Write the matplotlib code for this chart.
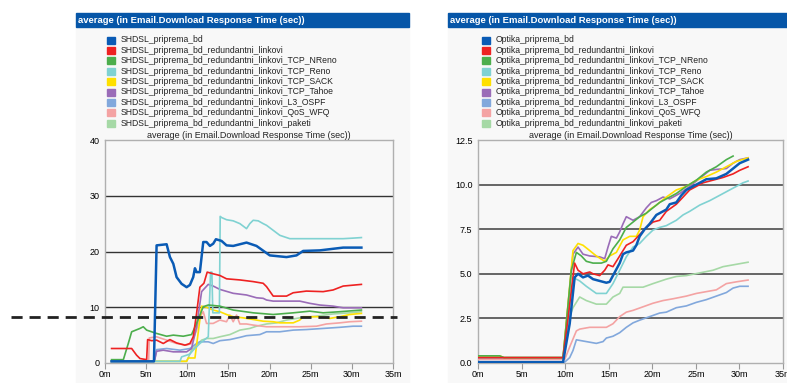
import matplotlib
matplotlib.use("Agg")
import matplotlib.pyplot as plt
from matplotlib.patches import Rectangle

W, H = 787, 383

# time in minutes, value in seconds
shdsl_bd = [(0.8, 0.3), (5.95, 0.3), (6.27, 21.1), (7.49, 21.3), (7.89, 19.0), (8.3, 17.8), (8.7, 15.4),
            (9.31, 14.2), (9.92, 13.6), (10.32, 14.0), (10.72, 15.4), (10.93, 17.0), (11.13, 16.3),
            (11.53, 16.3), (11.94, 21.7), (12.34, 21.7), (12.75, 21.0), (13.15, 21.4), (13.48, 22.2),
            (14.16, 21.9), (14.77, 21.1), (15.58, 21.0), (17.2, 21.6), (18.41, 21.0), (20.03, 19.3),
            (22.06, 19.0), (23.27, 19.3), (24.08, 20.1), (26.1, 20.2), (28.94, 20.7), (31.16, 20.7)]
shdsl_red = [(0.8, 2.6), (3.24, 2.6), (3.84, 1.4), (4.25, 0.8), (5.06, 0.6), (5.18, 4.2), (5.67, 4.0),
             (6.27, 4.1), (7.08, 3.5), (7.89, 4.2), (8.7, 3.6), (9.71, 3.2), (10.32, 3.5), (10.72, 4.7),
             (11.13, 8.9), (11.53, 13.6), (12.02, 14.3), (12.42, 16.3), (13.15, 16.0), (13.96, 15.7),
             (14.77, 15.1), (16.39, 14.9), (18.01, 14.6), (19.22, 14.3), (19.63, 13.7), (20.44, 12.0),
             (22.06, 12.0), (22.87, 12.6), (24.48, 12.9), (26.51, 12.8), (27.72, 13.1), (28.94, 13.8),
             (31.16, 14.1)]
shdsl_nreno = [(0.8, 0.6), (2.23, 0.6), (2.83, 3.5), (3.24, 5.6), (4.25, 6.2), (4.65, 6.5), (5.06, 5.9),
               (6.27, 5.3), (7.49, 4.8), (8.3, 5.0), (9.51, 4.8), (10.52, 5.1), (11.13, 7.1), (11.94, 10.1),
               (12.55, 10.4), (13.96, 10.2), (15.58, 9.5), (18.01, 9.0), (20.44, 8.7), (22.87, 9.0),
               (24.89, 9.3), (26.51, 9.0), (28.53, 9.2), (31.16, 9.5)]
shdsl_reno = [(0.8, 0.3), (9.11, 0.3), (9.31, 1.1), (10.32, 1.6), (10.72, 2.3), (11.53, 3.5), (12.55, 4.7),
              (12.83, 16.3), (12.99, 16.3), (13.1, 9.0), (13.9, 9.0), (14.0, 26.3), (14.16, 26.1),
              (14.77, 25.7), (15.58, 25.5), (16.39, 25.0), (17.2, 24.1), (17.6, 25.0), (18.01, 25.6),
              (18.62, 25.5), (19.22, 25.0), (19.63, 24.7), (20.44, 23.8), (21.25, 22.9), (22.46, 22.3),
              (24.89, 22.3), (28.94, 22.3), (30.15, 22.4), (31.16, 22.5)]
shdsl_sack = [(0.8, 0.3), (9.92, 0.3), (10.12, 0.9), (10.93, 0.9), (11.74, 10.2), (12.34, 10.0), (13.15, 9.5),
              (13.96, 9.2), (14.77, 8.7), (15.58, 8.3), (16.8, 8.1), (18.01, 7.8), (19.22, 7.5), (20.44, 7.4),
              (21.25, 7.2), (22.87, 7.2), (23.67, 7.7), (24.08, 8.3), (26.1, 8.3), (27.32, 8.0), (28.53, 8.3),
              (29.74, 8.7), (31.16, 8.9)]
shdsl_tahoe = [(0.8, 0.3), (6.0, 0.3), (6.27, 2.1), (7.08, 2.3), (8.3, 2.0), (9.92, 2.0), (10.52, 2.6),
               (11.13, 6.5), (11.74, 12.8), (12.55, 14.1), (13.15, 13.8), (13.96, 13.2), (15.58, 12.5),
               (17.2, 12.2), (18.41, 11.7), (19.22, 11.6), (19.63, 11.3), (20.44, 11.1), (23.67, 11.1),
               (24.89, 10.7), (26.1, 10.4), (27.72, 10.2), (28.94, 9.9), (31.16, 9.9)]
shdsl_ospf = [(0.8, 0.3), (6.0, 0.3), (6.27, 2.4), (7.49, 2.6), (9.11, 2.3), (10.32, 2.6), (11.13, 3.5),
              (11.53, 3.8), (12.55, 3.8), (13.15, 3.5), (13.96, 4.0), (15.18, 4.2), (16.39, 4.6), (17.2, 4.9),
              (18.82, 5.1), (19.63, 5.6), (21.25, 5.6), (22.87, 5.9), (24.48, 6.0), (26.51, 6.2), (28.53, 6.4),
              (30.15, 6.6), (31.16, 6.6)]
shdsl_wfq = [(0.8, 0.3), (5.3, 0.3), (5.38, 4.5), (6.27, 4.7), (7.49, 4.1), (8.7, 3.5), (9.92, 3.2),
             (10.52, 3.5), (11.13, 5.9), (11.53, 8.3), (11.94, 9.2), (12.34, 7.1), (13.15, 7.1), (13.96, 7.7),
             (14.77, 7.4), (15.18, 8.6), (15.58, 7.4), (15.99, 8.6), (16.39, 7.0), (17.2, 7.0), (18.01, 6.8),
             (19.63, 6.5), (21.25, 6.5), (23.67, 6.5), (25.7, 6.6), (26.91, 7.0), (28.53, 7.2), (29.74, 7.4),
             (31.16, 7.5)]
shdsl_paketi = [(0.8, 0.3), (9.92, 0.3), (10.52, 2.3), (11.13, 3.2), (11.74, 4.1), (12.34, 4.4), (13.15, 4.4),
                (13.96, 4.7), (15.18, 5.1), (16.39, 5.9), (17.6, 6.2), (18.41, 6.6), (19.63, 7.0), (20.84, 7.2),
                (22.06, 7.7), (23.67, 8.1), (25.7, 8.4), (27.72, 8.8), (29.74, 9.0), (31.16, 9.2)]

opt_bd = [(0.0, 0.05), (9.76, 0.05), (10.52, 2.2), (11.09, 4.8), (11.48, 5.0), (12.05, 4.8), (12.62, 4.9),
          (13.2, 4.7), (13.96, 4.6), (14.73, 4.5), (15.11, 4.55), (15.49, 4.9), (16.26, 5.6), (16.64, 6.1),
          (17.02, 6.2), (17.79, 6.3), (18.17, 6.6), (18.55, 7.1), (19.13, 7.5), (19.7, 7.8), (20.47, 8.3),
          (21.23, 8.5), (21.61, 8.6), (22.0, 8.9), (22.76, 9.0), (23.34, 9.4), (23.91, 9.7), (24.67, 9.9),
          (25.44, 10.1), (26.2, 10.3), (27.35, 10.35), (28.5, 10.6), (29.27, 10.9), (30.03, 11.2), (30.99, 11.4)]
opt_red = [(0.0, 0.3), (9.76, 0.3), (10.33, 2.5), (11.09, 5.6), (11.48, 5.2), (12.05, 5.0), (12.82, 5.1),
           (13.2, 5.0), (13.96, 4.9), (14.54, 5.2), (14.92, 5.5), (15.49, 5.4), (16.26, 6.0), (17.02, 6.6),
           (17.79, 6.8), (18.55, 7.2), (19.32, 7.6), (20.08, 7.9), (20.85, 8.0), (21.61, 8.5), (22.76, 8.9),
           (23.53, 9.3), (24.29, 9.7), (25.06, 9.9), (25.82, 10.1), (26.97, 10.25), (28.12, 10.4), (29.27, 10.6),
           (30.03, 10.8), (30.99, 11.0)]
opt_nreno = [(0.0, 0.4), (2.49, 0.4), (3.0, 0.3), (9.76, 0.3), (10.71, 5.2), (11.29, 6.2), (11.86, 6.0),
             (12.43, 5.7), (13.2, 5.6), (14.15, 5.6), (14.73, 5.7), (15.49, 6.4), (16.26, 6.9), (17.02, 7.6),
             (17.79, 7.9), (18.55, 8.2), (19.32, 8.4), (20.08, 8.7), (20.85, 9.0), (21.61, 9.2), (22.76, 9.5),
             (23.91, 9.9), (25.06, 10.25), (26.2, 10.7), (27.35, 11.0), (28.5, 11.4), (29.27, 11.6)]
opt_reno = [(0.0, 0.3), (9.76, 0.3), (10.9, 4.8), (11.67, 4.6), (12.43, 4.3), (13.58, 3.9), (14.73, 3.9),
            (15.49, 4.45), (16.26, 5.2), (17.02, 5.95), (17.79, 6.5), (18.55, 6.7), (19.32, 7.1), (20.08, 7.45),
            (20.85, 7.6), (21.61, 7.7), (22.76, 8.0), (23.53, 8.3), (24.29, 8.5), (25.44, 8.85), (26.59, 9.1),
            (27.74, 9.4), (28.88, 9.7), (29.65, 9.9), (30.41, 10.1), (30.99, 10.2)]
opt_sack = [(0.0, 0.4), (2.49, 0.4), (3.0, 0.3), (9.76, 0.3), (10.9, 6.3), (11.48, 6.7), (12.05, 6.6),
            (12.82, 6.3), (13.58, 6.0), (14.54, 5.7), (15.11, 6.0), (15.88, 6.2), (16.64, 6.9), (17.41, 7.1),
            (18.17, 7.1), (18.55, 7.45), (18.94, 8.2), (19.7, 8.6), (20.47, 8.85), (21.61, 9.3), (22.76, 9.7),
            (23.91, 9.9), (25.06, 10.25), (26.2, 10.45), (27.35, 10.7), (28.5, 11.0), (29.65, 11.3), (30.99, 11.5)]
opt_tahoe = [(0.0, 0.3), (9.76, 0.3), (10.9, 6.1), (11.48, 6.5), (12.05, 6.1), (12.82, 6.0), (13.96, 5.95),
             (14.54, 5.85), (14.92, 6.5), (15.3, 7.1), (15.88, 7.0), (16.26, 7.35), (16.64, 7.8), (17.02, 8.2),
             (17.79, 8.0), (18.55, 8.2), (19.32, 8.7), (19.89, 9.0), (20.47, 9.1), (21.23, 9.3), (22.0, 9.2),
             (23.14, 9.5), (24.29, 9.9), (25.44, 10.35), (26.59, 10.8), (27.35, 10.85), (28.5, 10.9),
             (29.27, 11.2), (30.03, 11.4), (30.99, 11.5)]
opt_ospf = [(0.0, 0.05), (9.95, 0.05), (10.52, 0.3), (10.9, 0.7), (11.29, 1.3), (12.43, 1.2), (13.58, 1.1),
            (14.35, 1.2), (14.73, 1.4), (15.49, 1.5), (16.26, 1.7), (17.02, 2.0), (17.79, 2.25), (18.55, 2.4),
            (19.7, 2.6), (20.85, 2.8), (21.61, 2.85), (22.76, 3.1), (23.91, 3.2), (25.06, 3.4), (26.2, 3.55),
            (27.35, 3.75), (28.5, 3.95), (29.27, 4.2), (30.03, 4.3), (30.99, 4.3)]
opt_wfq = [(0.0, 0.2), (9.95, 0.2), (10.52, 0.9), (11.29, 1.8), (11.67, 1.9), (12.82, 2.0), (14.73, 2.0),
           (15.49, 2.2), (16.26, 2.6), (17.02, 2.85), (17.79, 2.95), (18.94, 3.15), (20.08, 3.35), (21.23, 3.5),
           (22.38, 3.6), (23.91, 3.75), (25.06, 3.9), (26.2, 4.0), (27.35, 4.1), (28.5, 4.45), (29.65, 4.55),
           (30.99, 4.65)]
opt_paketi = [(0.0, 0.3), (9.76, 0.3), (10.52, 2.6), (10.9, 3.1), (11.67, 3.7), (12.43, 3.5), (13.58, 3.3),
              (14.73, 3.3), (15.49, 3.7), (16.26, 3.9), (16.64, 4.25), (17.79, 4.25), (18.94, 4.25),
              (20.08, 4.45), (21.61, 4.7), (22.76, 4.85), (23.91, 4.9), (25.44, 5.05), (26.97, 5.2),
              (28.12, 5.4), (29.27, 5.5), (30.99, 5.65)]

suffixes = ["_priprema_bd", "_priprema_bd_redundantni_linkovi",
            "_priprema_bd_redundantni_linkovi_TCP_NReno", "_priprema_bd_redundantni_linkovi_TCP_Reno",
            "_priprema_bd_redundantni_linkovi_TCP_SACK", "_priprema_bd_redundantni_linkovi_TCP_Tahoe",
            "_priprema_bd_redundantni_linkovi_L3_OSPF", "_priprema_bd_redundantni_linkovi_QoS_WFQ",
            "_priprema_bd_redundantni_linkovi_paketi"]
colors = ["#0a5bb5", "#ee2222", "#4cae4c", "#80d2d2", "#ffe000", "#9a6cb8", "#82a8dc", "#f4a3a3", "#a6d9a6"]

left_series = [shdsl_bd, shdsl_red, shdsl_nreno, shdsl_reno, shdsl_sack, shdsl_tahoe, shdsl_ospf, shdsl_wfq,
               shdsl_paketi]
right_series = [opt_bd, opt_red, opt_nreno, opt_reno, opt_sack, opt_tahoe, opt_ospf, opt_wfq, opt_paketi]

left_yticks = [0, 10, 20, 30, 40]
right_yticks = [0.0, 2.5, 5.0, 7.5, 10.0, 12.5]
xticks = [0, 5, 10, 15, 20, 25, 30, 35]
threshold = 8.25

header = "average (in Email.Download Response Time (sec))"
FONT = "Liberation Sans"
plt.rcParams["font.family"] = FONT

fig = plt.figure(figsize=(W / 100, H / 100), dpi=100)


def fx(px):
    return px / W


def fy(py):
    return 1 - py / H


def panel(x0, x1, prefix, series, yticks, ylim, ax_left, ax_right, sq_x, grid_color, grid_lw):
    # background and blue title bar
    fig.patches.append(Rectangle((fx(x0), 0), fx(x1) - fx(x0), fy(27), transform=fig.transFigure,
                                 color="#f8f8f8", zorder=-2))
    fig.patches.append(Rectangle((fx(x0), fy(27)), fx(x1) - fx(x0), fy(13) - fy(27), transform=fig.transFigure,
                                 color="#0656a8", zorder=-1))
    fig.text(fx(x0 + 2), fy(20.5), header, color="white", fontsize=6.8, fontweight="bold", va="center")

    # legend
    for i, (suf, c) in enumerate(zip(suffixes, colors)):
        yc = 40 + i * 10.4
        fig.patches.append(Rectangle((fx(sq_x), fy(yc + 3.5)), fx(8), 7 / H, transform=fig.transFigure,
                                     color=c, zorder=-1))
        fig.text(fx(sq_x + 14), fy(yc), prefix + suf, fontsize=6.2, va="center", color="#222222")

    ax = fig.add_axes([fx(ax_left), fy(363), fx(ax_right) - fx(ax_left), fy(140) - fy(363)])
    ax.set_zorder(2)
    ax.set_facecolor("#f8f8f8")
    for i, (pts, c) in enumerate(zip(series, colors)):
        t = [p[0] for p in pts]
        v = [p[1] for p in pts]
        lw = 1.8 if i == 0 else 1.2
        ax.plot(t, v, color=c, lw=lw, zorder=10 - i if i else 11)
    for yv in yticks[1:-1]:
        ax.axhline(yv, color=grid_color, lw=grid_lw, zorder=1)
    ax.set_xlim(0, 35)
    ax.set_ylim(*ylim)
    ax.set_xticks(xticks)
    ax.set_xticklabels([f"{x}m" for x in xticks])
    ax.set_yticks(yticks)
    ax.tick_params(axis="x", length=4, color="#999999", labelsize=6.5, pad=1)
    ax.tick_params(axis="y", length=0, labelsize=6.5, pad=4)
    for s in ax.spines.values():
        s.set_color("#b0b0b0")
        s.set_linewidth(1)
    ax.set_title(header, fontsize=6.5, pad=1.5, color="#222222")
    return ax


axl = panel(76, 409, "SHDSL", left_series, left_yticks, (0, 40), 105, 393, 107, "#333333", 1.0)
axl.set_yticklabels([str(v) for v in left_yticks])
axr = panel(448, 787, "Optika", right_series, right_yticks, (0, 12.5), 478, 783, 482, "#666666", 1.4)
axr.set_yticklabels([f"{v:.1f}" for v in right_yticks])

# threshold line crossing the left chart
axl.axhline(threshold, xmin=(11 - 105) / 288, xmax=(397 - 105) / 288, color="#222222", lw=2,
            ls=(0, (4, 2.5)), clip_on=False, zorder=20)

fig.savefig("out.png", dpi=100)
